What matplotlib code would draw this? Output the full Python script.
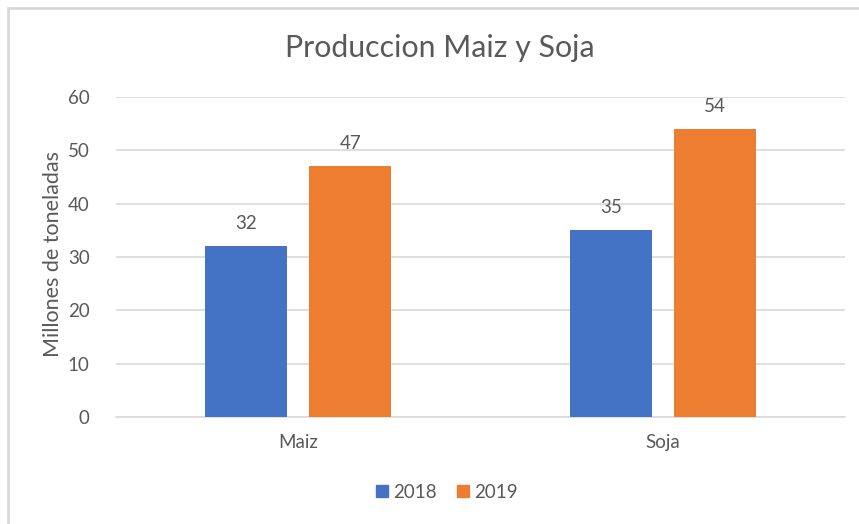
import numpy as np
import matplotlib.pyplot as plt
from matplotlib.lines import Line2D

# ========= 数据 =========
categorias = ["Maiz", "Soja"]
anios = ["2018", "2019"]
v2018 = [32, 35]
v2019 = [47, 54]
colores = ["#4472C4", "#ED7D31"]
# =======================

plt.rcParams["font.family"] = ["Lato", "DejaVu Sans"]
gris = "#595959"

fig = plt.figure(figsize=(8.59, 5.24), dpi=100)
ax = fig.add_axes([116 / 859, 1 - 417 / 524, (845 - 116) / 859, (417 - 97) / 524])

x = np.arange(len(categorias))
w = 0.225
off = w / 2 + 0.03
for vals, lab, col, d in [(v2018, anios[0], colores[0], -off), (v2019, anios[1], colores[1], off)]:
    bars = ax.bar(x + d, vals, w, color=col, label=lab, zorder=3)
    for b, v in zip(bars, vals):
        ax.annotate(f"{v}", (b.get_x() + b.get_width() / 2, v), xytext=(0, 10),
                    textcoords="offset points", ha="center", va="bottom",
                    fontsize=13.5, color=gris)

ax.set_xlim(-0.5, 1.5)
ax.set_ylim(0, 60)
ax.set_yticks(range(0, 61, 10))
ax.set_xticks(x)
ax.set_xticklabels(categorias)
ax.grid(axis="y", color="#D9D9D9", linewidth=1.2, zorder=0)
for s in ["top", "right", "left"]:
    ax.spines[s].set_visible(False)
ax.spines["bottom"].set_color("#D9D9D9")
ax.spines["bottom"].set_linewidth(1.2)
ax.tick_params(axis="both", length=0, labelsize=13.5, labelcolor=gris)
ax.tick_params(axis="y", pad=19)
ax.tick_params(axis="x", pad=12)

fig.text(53 / 859, 1 - 254 / 524, "Millones de toneladas", rotation=90,
         ha="center", va="center", fontsize=15.5, color=gris)
fig.text(440 / 859, 1 - 48 / 524, "Produccion Maiz y Soja", ha="center", va="center",
         fontsize=21.8, color=gris)

handles = [Line2D([], [], marker="s", linestyle="", markersize=8, color=c) for c in colores]
fig.legend(handles, anios, loc="center", bbox_to_anchor=(444 / 859, 1 - 492 / 524),
           ncol=2, frameon=False, fontsize=13.5, labelcolor=gris,
           handletextpad=0.0, columnspacing=0.8, handlelength=1.2)

# borde del grafico
fig.add_artist(Line2D([8 / 859, 1], [1 - 8 / 524, 1 - 8 / 524], color="#D9D9D9", linewidth=2))
fig.add_artist(Line2D([8 / 859, 8 / 859], [0, 1 - 8 / 524], color="#D9D9D9", linewidth=2))

fig.savefig("out.png", dpi=100)
